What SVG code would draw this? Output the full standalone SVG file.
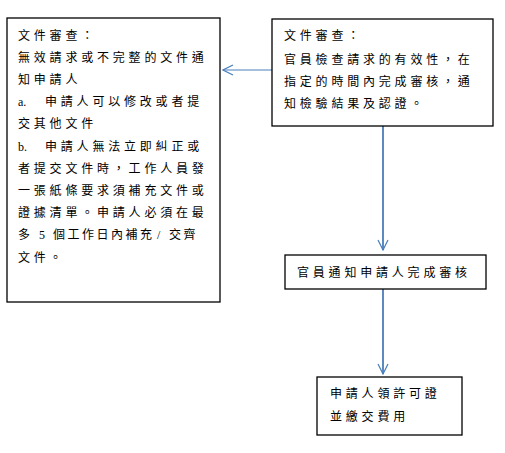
<svg xmlns="http://www.w3.org/2000/svg" width="505" height="453" viewBox="0 0 505 453">
<defs>
<style>
.box{fill:#fff;stroke:#000;stroke-width:1.3}
.t{font-family:"Liberation Serif","Noto Sans CJK TC",serif;font-size:12px;letter-spacing:3.8px;fill:#000;white-space:pre}
.n{letter-spacing:0}
.c{stroke:#4a7ebb;fill:none}
</style>
<marker id="ah" viewBox="0 0 12 12" refX="11" refY="6" markerWidth="12" markerHeight="12" markerUnits="userSpaceOnUse" orient="auto">
<path d="M1,1 L11,6 L1,11" fill="none" stroke="#4a7ebb" stroke-width="1.2"/>
</marker>
</defs>
<rect width="505" height="453" fill="#fff"/>
<g id="connectors">
<line class="c" x1="272" y1="70" x2="223" y2="70" stroke-width="1.2" marker-end="url(#ah)"/>
<line class="c" x1="383" y1="126" x2="383" y2="250" stroke-width="1.8" marker-end="url(#ah)"/>
<line class="c" x1="383" y1="289" x2="383" y2="374" stroke-width="1.8" marker-end="url(#ah)"/>
</g>
<g id="node-left">
<rect class="box" x="7" y="18" width="213" height="284"/>
<text class="t" x="18" y="39.5">文件審查：</text>
<text class="t" x="18" y="61.7">無效請求或不完整的文件通</text>
<text class="t" x="18" y="83.9">知申請人</text>
<text class="t" y="106.1"><tspan class="n" x="18">a.</tspan><tspan x="45">申請人可以修改或者提</tspan></text>
<text class="t" x="18" y="128.3">交其他文件</text>
<text class="t" y="150.5"><tspan class="n" x="18">b.</tspan><tspan x="45">申請人無法立即糾正或</tspan></text>
<text class="t" x="18" y="172.7">者提交文件時，工作人員發</text>
<text class="t" x="18" y="194.9">一張紙條要求須補充文件或</text>
<text class="t" x="18" y="217.1">證據清單。申請人必須在最</text>
<text class="t" y="239.3" style="letter-spacing:2.5px"><tspan x="18">多</tspan><tspan class="n" x="39">5</tspan><tspan x="53">個工作日內補充</tspan><tspan class="n" x="157">/</tspan><tspan x="169">交齊</tspan></text>
<text class="t" x="18" y="261.5">文件。</text>
</g>
<g id="node-review">
<rect class="box" x="272" y="19" width="221" height="107"/>
<text class="t" x="284" y="39.5">文件審查：</text>
<text class="t" x="284" y="64">官員檢查請求的有效性，在</text>
<text class="t" x="284" y="86">指定的時間內完成審核，通</text>
<text class="t" x="284" y="107.5">知檢驗結果及認證。</text>
</g>
<g id="node-notify">
<rect class="box" x="285" y="255" width="201" height="34"/>
<text class="t" x="297" y="276.5">官員通知申請人完成審核</text>
</g>
<g id="node-license">
<rect class="box" x="317" y="377" width="145" height="58"/>
<text class="t" x="330" y="397.5">申請人領許可證</text>
<text class="t" x="330" y="420.5">並繳交費用</text>
</g>
</svg>
